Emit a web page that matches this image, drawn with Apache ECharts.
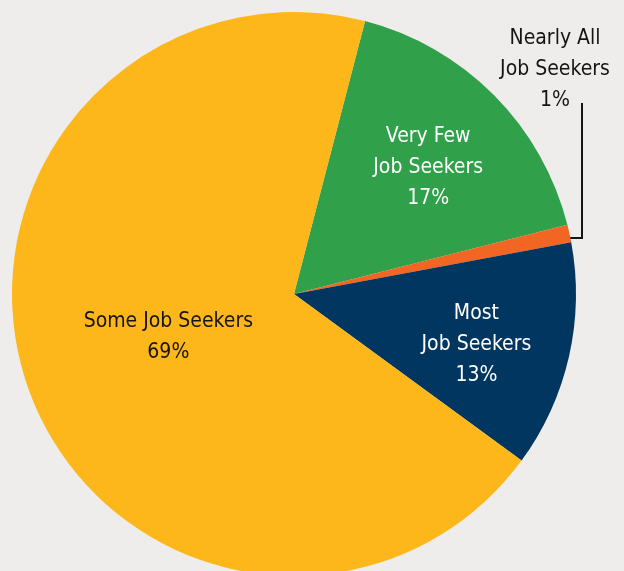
<!DOCTYPE html>
<html>
<head>
<meta charset="utf-8">
<script src="https://cdn.jsdelivr.net/npm/echarts@6/dist/echarts.min.js"></script>
<style>
	html, body { margin: 0; padding: 0; background: #eeedeb; }
	#chart { width: 624px; height: 571px; }
</style>
</head>
<body>
<div id="chart"></div>
<script>
// slices, clockwise from the top
var categories = ['Very Few\nJob Seekers', 'Nearly All\nJob Seekers', 'Most\nJob Seekers', 'Some Job Seekers'];
var values = [17, 1, 13, 69];
var colors = ['#30a04a', '#f26522', '#003660', '#fdb71b'];
var textColors = ['#ffffff', '#141414', '#ffffff', '#141414'];
// label nudges from the default inside spot
var labelShift = [[32, -25], null, [42, 19], [10, -5]];

var FONT = '"Liberation Sans Narrow", "DejaVu Sans Condensed", sans-serif';

var chart = echarts.init(document.getElementById('chart'));

var data = [];
for (var i = 0; i < values.length; i++) {
	data.push({
		name: categories[i],
		value: values[i],
		itemStyle: { color: colors[i] },
		label: { color: textColors[i] }
	});
}

var option = {
	backgroundColor: '#eeedeb',
	animation: false,
	series: [{
		type: 'pie',
		center: [294, 294],
		radius: 282,
		startAngle: 75.4,
		clockwise: true,
		avoidLabelOverlap: false,
		itemStyle: { borderWidth: 0 },
		label: {
			show: true,
			position: 'inside',
			fontFamily: FONT,
			fontSize: 21,
			lineHeight: 31,
			align: 'center',
			formatter: function(p){
				return p.name + '\n' + p.value + '%';
			}
		},
		labelLine: { show: false },
		labelLayout: function(p){
			if (p.dataIndex == 1) {
				return { x: 555, y: 70, align: 'center', verticalAlign: 'middle' };
			}
			var s = labelShift[p.dataIndex];
			return { dx: s[0], dy: s[1] };
		},
		data: data
	}],
	graphic: [{
		type: 'polyline',
		shape: { points: [[582, 103], [582, 238], [563, 238]] },
		style: { stroke: '#141414', lineWidth: 2, fill: null }
	}]
};

chart.setOption(option);
</script>
</body>
</html>
